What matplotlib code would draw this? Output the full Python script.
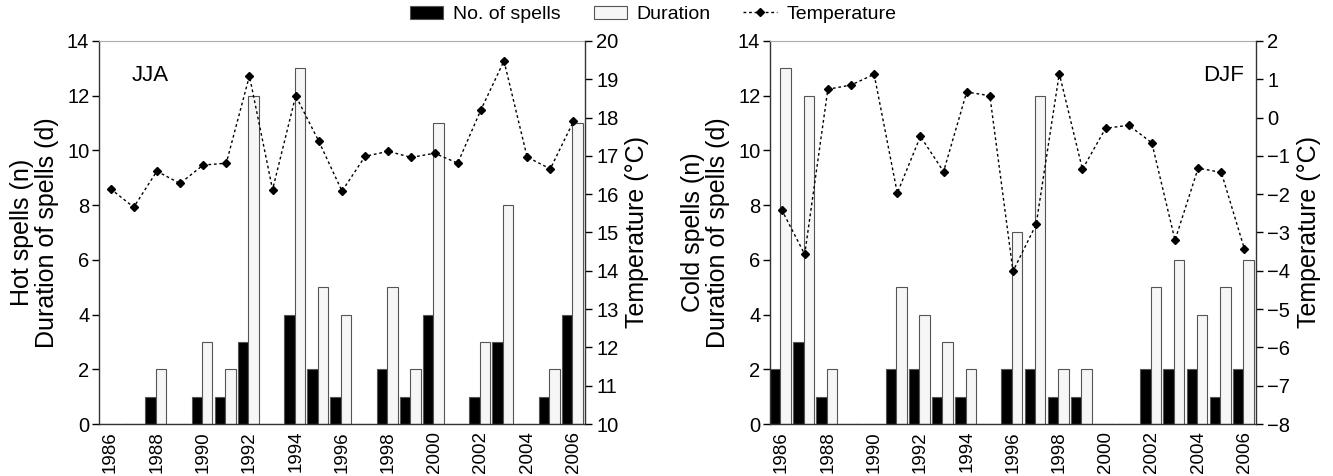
import matplotlib
matplotlib.use("Agg")
import matplotlib.pyplot as plt
from matplotlib.patches import Patch
from matplotlib.lines import Line2D
import numpy as np

plt.rcParams['font.family'] = ['Liberation Sans', 'DejaVu Sans']

years = list(range(1986, 2007))
year_labels = [str(y) if y % 2 == 0 else "" for y in years]

# Summer (JJA) hot spells
hot_spells = [0, 0, 1, 0, 1, 1, 3, 0, 4, 2, 1, 0, 2, 1, 4, 0, 1, 3, 0, 1, 4]
hot_duration = [0, 0, 2, 0, 3, 2, 12, 0, 13, 5, 4, 0, 5, 2, 11, 0, 3, 8, 0, 2, 11]
jja_temp = [16.14, 15.66, 16.60, 16.28, 16.76, 16.81, 19.09, 16.12, 18.57, 17.38,
            16.08, 16.99, 17.12, 16.96, 17.07, 16.81, 18.20, 19.48, 16.97, 16.66, 17.90]

# Winter (DJF) cold spells
cold_spells = [2, 3, 1, 0, 0, 2, 2, 1, 1, 0, 2, 2, 1, 1, 0, 0, 2, 2, 2, 1, 2]
cold_duration = [13, 12, 2, 0, 0, 5, 4, 3, 2, 0, 7, 12, 2, 2, 0, 0, 5, 6, 4, 5, 6]
djf_temp = [-2.40, -3.57, 0.74, 0.85, 1.13, -1.97, -0.49, -1.41, 0.67, 0.57,
            -4.01, -2.79, 1.15, -1.35, -0.28, -0.20, -0.66, -3.20, -1.32, -1.43, -3.43]

W, H = 1333, 476
fig = plt.figure(figsize=(W / 100, H / 100), dpi=100)

YTICK_FS = 14.5
XTICK_FS = 13.5
LABEL_FS = 18
EDGE = "#555555"
DUR_FILL = "#f6f6f6"


def panel(left_px, spells, duration, temp, tlim, tticks, ylabel, tag, tag_x, tag_ha):
    ax = fig.add_axes([left_px / W, (H - 424) / H, 486 / W, 383 / H])
    x = np.arange(len(years))
    bw = 0.45
    ax.bar(x - 0.5, spells, width=bw, align='edge', color='black',
           edgecolor=EDGE, linewidth=0.8, zorder=2)
    ax.bar(x - 0.5 + bw, duration, width=bw, align='edge', color=DUR_FILL,
           edgecolor=EDGE, linewidth=0.8, zorder=2)
    ax.set_xlim(-0.5, len(years) - 0.5)
    ax.set_ylim(0, 14)
    ax.set_yticks(range(0, 15, 2))
    ax.set_xticks(x)
    ax.set_xticklabels(year_labels, rotation=90, fontsize=XTICK_FS)
    ax.tick_params(axis='x', length=0, pad=5)
    ax.tick_params(axis='y', direction='out', length=5, width=1, labelsize=YTICK_FS, pad=2)
    ax.set_ylabel(ylabel, fontsize=LABEL_FS, linespacing=1.05, labelpad=6)
    for s in ('left', 'bottom'):
        ax.spines[s].set_color('#333333')
        ax.spines[s].set_linewidth(1.0)
    ax.spines['top'].set_color('#aaaaaa')
    ax.spines['top'].set_linewidth(0.8)
    ax.spines['right'].set_visible(False)
    ax.text(tag_x, 0.911, tag, transform=ax.transAxes, fontsize=16,
            ha=tag_ha, va='center')

    ax2 = ax.twinx()
    ax2.plot(x, temp, linestyle=(0, (2, 2)), color='black', linewidth=1.0,
             marker='D', markersize=4, zorder=3)
    ax2.set_ylim(*tlim)
    ax2.set_yticks(tticks)
    ax2.set_yticklabels([f"{t}".replace('-', '\u2212') for t in tticks])
    ax2.tick_params(axis='y', direction='out', length=5, width=1, labelsize=YTICK_FS, pad=3)
    ax2.set_ylabel("Temperature (\u00b0C)", fontsize=LABEL_FS, labelpad=5)
    for s in ('left', 'bottom', 'top'):
        ax2.spines[s].set_visible(False)
    ax2.spines['right'].set_color('#333333')
    ax2.spines['right'].set_linewidth(1.0)
    return ax, ax2


panel(99, hot_spells, hot_duration, jja_temp, (10, 20), list(range(10, 21)),
      "Hot spells (n)\nDuration of spells (d)", "JJA", 0.068, 'left')
panel(770, cold_spells, cold_duration, djf_temp, (-8, 2), list(range(-8, 3)),
      "Cold spells (n)\nDuration of spells (d)", "DJF", 0.975, 'right')

handles = [
    Patch(facecolor='black', edgecolor=EDGE, linewidth=0.8),
    Patch(facecolor=DUR_FILL, edgecolor=EDGE, linewidth=0.8),
    Line2D([], [], linestyle=(0, (2, 2)), color='black', linewidth=1.0,
           marker='D', markersize=4),
]
fig.legend(handles, ["No. of spells", "Duration", "Temperature"],
           loc='upper center', bbox_to_anchor=(0.49, 1.025), ncol=3,
           frameon=False, fontsize=14, handlelength=1.7, handleheight=0.7,
           columnspacing=1.7, handletextpad=0.5)

fig.savefig("out.png", dpi=100)
